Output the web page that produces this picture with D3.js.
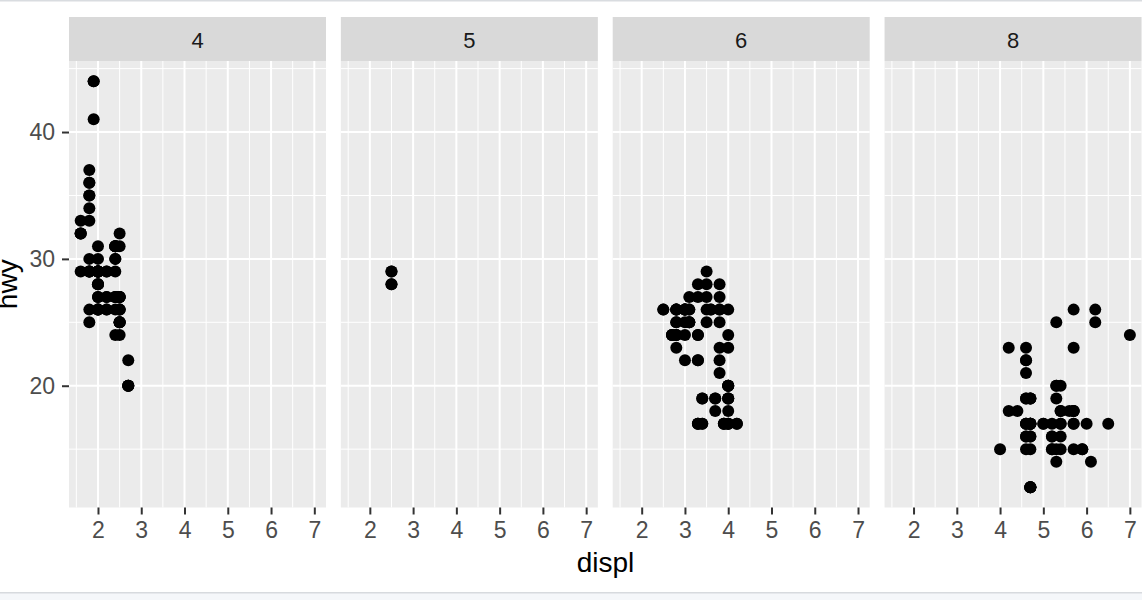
<!DOCTYPE html>
<html>
<head>
<meta charset="utf-8">
<script src="https://cdn.jsdelivr.net/npm/d3@7"></script>
<style>
  html, body { margin: 0; padding: 0; background: #ffffff; }
  svg { display: block; }
  text { font-family: "Liberation Sans", Arial, sans-serif; }
</style>
</head>
<body>
<svg id="chart" width="1142" height="600"></svg>
<script>
// Facets (cyl) and points per facet: displ, hwy (aligned index by index)
const facets = ["4", "5", "6", "8"];

const displ4 = [1.8,1.8,2.0,2.0,1.8,1.8,2.0,2.0, 2.4,2.4, 2.4,
  1.6,1.6,1.6,1.6,1.6,1.8,1.8,1.8,2.0, 2.4,2.4,2.4,2.4, 2.0,2.0,2.0,2.0,
  2.4,2.4,2.5,2.5, 2.5,2.5,2.5,2.5,2.5,2.5, 2.5,2.5,2.2,2.2,2.5,2.5,2.5,2.5,
  2.7,2.7, 2.2,2.2,2.4,2.4, 2.2,2.2,2.4,2.4, 1.8,1.8,1.8,1.8,1.8, 2.7,2.7,2.7,
  2.0,2.0,2.0,2.0, 1.9,2.0,2.0,2.0,2.0, 1.9,1.9,2.0,2.0, 1.8,1.8,2.0,2.0];
const hwy4 = [29,29,31,30,26,25,28,27, 27,30, 24,
  33,32,32,29,32,34,36,36,29, 26,27,30,31, 26,29,28,27,
  29,27,31,32, 25,24,27,25,25,27, 26,26,26,26,26,27,25,27,
  20,20, 29,27,31,31, 27,29,31,31, 30,33,35,37,35, 20,20,22,
  29,26,29,29, 44,29,26,29,29, 44,41,29,26, 29,29,28,29];

const displ5 = [2.5,2.5,2.5,2.5];
const hwy5 = [29,28,28,29];

const displ6 = [2.8,2.8,3.1,2.8,2.8,3.1,3.1,2.8,3.1, 3.1,3.5,3.6,
  3.0,3.3,3.3,3.3,3.3,3.3,3.8,3.8,3.8,4.0, 3.7,3.7,3.9,3.9, 3.9,
  4.0,4.0,4.0,4.0, 4.2,4.2, 3.8,3.8,4.0,4.0, 2.5,2.5,3.3,2.7,2.7,2.7,
  3.0,3.7,4.0, 4.0,4.0, 3.5,3.5,3.0,3.0,3.5,3.3,3.3,4.0, 3.1,3.8,3.8,3.8,
  3.4,3.4,4.0, 3.0,3.0,3.5, 3.0,3.0,3.3, 3.4,3.4,4.0,4.0, 2.8, 2.8,2.8, 2.8,2.8,3.6];
const hwy6 = [26,26,27,25,25,25,25,24,25, 26,29,26,
  24,22,22,24,24,17,22,21,23,23, 19,18,17,17, 17,
  17,19,17,19, 17,17, 26,25,26,24, 26,26,28,24,24,24,
  22,19,20, 17,19, 27,26,26,25,25,17,17,20, 26,26,27,28,
  19,17,20, 26,26,28, 26,26,27, 17,19,18,20, 24, 23,24, 26,26,26];

const displ8 = [4.2, 5.3,5.3,5.3,5.7,6.0, 5.7,5.7,6.2,6.2,7.0, 5.3,5.3,5.7,6.5,
  4.7,4.7,4.7,5.2,5.2, 4.7,4.7,4.7,5.2,5.7,5.9,
  4.7,4.7,4.7,4.7,4.7,4.7,5.2,5.2,5.7,5.9, 4.6,4.6,5.4, 4.6,5.0,
  4.6,4.6,4.6,5.4,5.4, 4.6,4.6,4.6,4.6,5.4, 4.7,4.7,4.7,5.7,6.1,
  4.0,4.2,4.4,4.6, 5.4,5.4,5.4, 4.6,5.0, 5.6, 5.3, 4.7, 4.7,5.7];
const hwy8 = [23, 20,15,20,17,17, 26,23,26,25,24, 19,14,15,17,
  19,19,12,17,15, 17,12,17,16,18,15,
  16,12,17,17,16,12,15,16,17,15, 17,17,18, 19,17,
  16,16,17,15,17, 21,22,23,22,20, 17,12,19,18,14,
  15,18,18,15, 17,16,18, 19,17, 18, 25, 17, 15,18];

const panelData = [
  { label: facets[0], displ: displ4, hwy: hwy4 },
  { label: facets[1], displ: displ5, hwy: hwy5 },
  { label: facets[2], displ: displ6, hwy: hwy6 },
  { label: facets[3], displ: displ8, hwy: hwy8 }
];
const xTicks = [2, 3, 4, 5, 6, 7];
const xMinor = [1.5, 2.5, 3.5, 4.5, 5.5, 6.5];
const yTicks = [20, 30, 40];
const yMinor = [15, 25, 35, 45];
const xTitle = "displ";
const yTitle = "hwy";

// Layout
const svg = d3.select("#chart");
const panelLeft = 69, panelStride = 271.85, panelW = 257;
const stripTop = 17, panelTop = 61, panelBottom = 507.5;
const panelH = panelBottom - panelTop;
const FONT = "Liberation Sans, Arial, sans-serif";

// page borders (top line, bottom band)
svg.append("rect").attr("x", 0).attr("y", 0).attr("width", 1142).attr("height", 1.5).attr("fill", "#d9dce0");
svg.append("rect").attr("x", 0).attr("y", 593).attr("width", 1142).attr("height", 7).attr("fill", "#f5f7fa");
svg.append("rect").attr("x", 0).attr("y", 592).attr("width", 1142).attr("height", 1.5).attr("fill", "#d7dade");

const xScale = d3.scaleLinear().domain([1.33, 7.27]).range([0, panelW]);
const yScale = d3.scaleLinear().domain([10.4, 45.6]).range([panelH, 0]);

panelData.forEach((pd, i) => {
  const px = panelLeft + i * panelStride;
  const g = svg.append("g").attr("transform", `translate(${px},${panelTop})`);

  // strip
  svg.append("rect").attr("x", px).attr("y", stripTop).attr("width", panelW)
    .attr("height", panelTop - stripTop).attr("fill", "#d9d9d9");
  svg.append("text").attr("x", px + panelW / 2).attr("y", 48)
    .attr("text-anchor", "middle").attr("font-family", FONT)
    .attr("font-size", 22).attr("fill", "#1a1a1a").text(pd.label);

  // panel background
  g.append("rect").attr("width", panelW).attr("height", panelH).attr("fill", "#ebebeb");

  // minor grid
  g.selectAll(".xminor").data(xMinor).enter().append("line")
    .attr("x1", d => xScale(d)).attr("x2", d => xScale(d))
    .attr("y1", 0).attr("y2", panelH).attr("stroke", "#ffffff").attr("stroke-width", 1);
  g.selectAll(".yminor").data(yMinor).enter().append("line")
    .attr("x1", 0).attr("x2", panelW)
    .attr("y1", d => yScale(d)).attr("y2", d => yScale(d)).attr("stroke", "#ffffff").attr("stroke-width", 1);
  // major grid
  g.selectAll(".xmajor").data(xTicks).enter().append("line")
    .attr("x1", d => xScale(d)).attr("x2", d => xScale(d))
    .attr("y1", 0).attr("y2", panelH).attr("stroke", "#ffffff").attr("stroke-width", 2);
  g.selectAll(".ymajor").data(yTicks).enter().append("line")
    .attr("x1", 0).attr("x2", panelW)
    .attr("y1", d => yScale(d)).attr("y2", d => yScale(d)).attr("stroke", "#ffffff").attr("stroke-width", 2);

  // points
  g.selectAll(".pt").data(pd.displ.map((d, k) => [d, pd.hwy[k]])).enter().append("circle")
    .attr("cx", d => xScale(d[0])).attr("cy", d => yScale(d[1]))
    .attr("r", 6).attr("fill", "#000000");

  // x axis
  const xAxis = d3.axisBottom(xScale).tickValues(xTicks).tickSize(7).tickPadding(7).tickFormat(d3.format("d"));
  const xg = svg.append("g").attr("transform", `translate(${px},${panelBottom})`).call(xAxis);
  xg.select(".domain").remove();
  xg.selectAll(".tick line").attr("stroke", "#333333").attr("stroke-width", 2);
  xg.selectAll(".tick text").attr("fill", "#4d4d4d").attr("font-size", 23).attr("font-family", FONT);
});

// y axis (first panel only)
const yAxis = d3.axisLeft(yScale).tickValues(yTicks).tickSize(7).tickPadding(7).tickFormat(d3.format("d"));
const yg = svg.append("g").attr("transform", `translate(${panelLeft},${panelTop})`).call(yAxis);
yg.select(".domain").remove();
yg.selectAll(".tick line").attr("stroke", "#333333").attr("stroke-width", 2);
yg.selectAll(".tick text").attr("fill", "#4d4d4d").attr("font-size", 23).attr("font-family", FONT);

// axis titles
svg.append("text").attr("x", 605.5).attr("y", 572).attr("text-anchor", "middle")
  .attr("font-family", FONT).attr("font-size", 28).attr("fill", "#000000").text(xTitle);
svg.append("text").attr("transform", `translate(17,${(panelTop + panelBottom) / 2}) rotate(-90)`)
  .attr("text-anchor", "middle").attr("font-family", FONT)
  .attr("font-size", 28).attr("fill", "#000000").text(yTitle);
</script>
</body>
</html>
